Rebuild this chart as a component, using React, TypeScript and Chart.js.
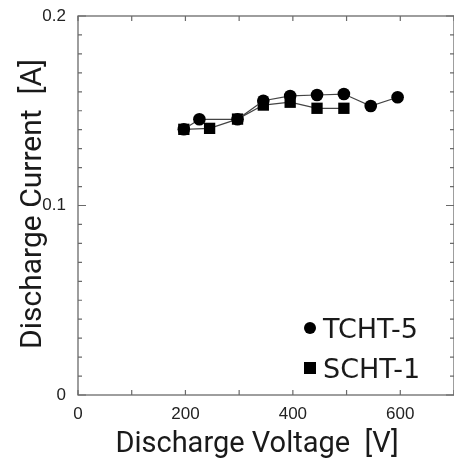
import React, { useEffect, useRef } from "react";
import { Chart, registerables } from "chart.js";

Chart.register(...registerables);

const tchtVoltage = [197, 226, 297, 345, 395, 445, 495, 545, 595];
const tchtCurrent = [0.1402, 0.1455, 0.1455, 0.1553, 0.1578, 0.1583, 0.1588, 0.1525, 0.1571];
const schtVoltage = [197, 245, 297, 345, 395, 445, 495];
const schtCurrent = [0.1402, 0.1407, 0.1456, 0.153, 0.1545, 0.1513, 0.1513];
const seriesNames = ["TCHT-5", "SCHT-1"];
const xTickLabels = [0, 200, 400, 600];
const yTickLabels = [0, 0.1, 0.2];
const xTitle = "Discharge Voltage  [V]";
const yTitle = "Discharge Current  [A]";

const CW = 462;
const CH = 459;

const framePlugin = {
  id: "frame",
  afterDraw(chart: any) {
    const ctx = chart.ctx;
    const xs = chart.scales.x;
    const ys = chart.scales.y;
    const a = chart.chartArea;
    ctx.save();
    ctx.strokeStyle = "#6a6a6a";
    ctx.lineWidth = 1.3;
    ctx.strokeRect(a.left, a.top, a.right - a.left, a.bottom - a.top);
    ctx.lineWidth = 1.2;
    ctx.beginPath();
    for (let v = xs.min; v <= xs.max + 1e-9; v += 100) {
      const px = xs.getPixelForValue(v);
      ctx.moveTo(px, a.bottom);
      ctx.lineTo(px, a.bottom - 5);
      ctx.moveTo(px, a.top);
      ctx.lineTo(px, a.top + 5);
    }
    for (let i = 0; i <= 20; i++) {
      const v = i * 0.01;
      const py = ys.getPixelForValue(v);
      const len = i % 10 === 0 ? 8 : 4;
      ctx.moveTo(a.left, py);
      ctx.lineTo(a.left + len, py);
      ctx.moveTo(a.right, py);
      ctx.lineTo(a.right - len, py);
    }
    ctx.stroke();

    // titles
    ctx.fillStyle = "#1a1a1a";
    ctx.font = "29px Roboto";
    ctx.textAlign = "center";
    ctx.textBaseline = "alphabetic";
    ctx.fillText(xTitle, 257, 452);
    ctx.save();
    ctx.translate(41, 204);
    ctx.rotate(-Math.PI / 2);
    ctx.font = "30px Roboto";
    ctx.fillText(yTitle, 0, 0);
    ctx.restore();

    // legend
    ctx.fillStyle = "#000";
    ctx.beginPath();
    ctx.arc(310, 328, 6, 0, Math.PI * 2);
    ctx.fill();
    ctx.fillRect(304, 362, 12, 12);
    ctx.fillStyle = "#1a1a1a";
    ctx.font = "27px 'DejaVu Sans'";
    ctx.textAlign = "left";
    ctx.fillText(seriesNames[0], 323, 338);
    ctx.fillText(seriesNames[1], 323, 378);
    ctx.restore();
  },
};

export default function App() {
  const ref = useRef<HTMLCanvasElement | null>(null);
  useEffect(() => {
    if (!ref.current) return;
    const chart = new Chart(ref.current, {
      type: "scatter",
      data: {
        datasets: [
          {
            label: seriesNames[0],
            data: tchtVoltage.map((v, i) => ({ x: v, y: tchtCurrent[i] })),
            showLine: true,
            borderColor: "#444",
            borderWidth: 1.2,
            backgroundColor: "#000",
            pointBackgroundColor: "#000",
            pointBorderColor: "#000",
            pointBorderWidth: 0,
            pointStyle: "circle",
            pointRadius: 6.3,
          },
          {
            label: seriesNames[1],
            data: schtVoltage.map((v, i) => ({ x: v, y: schtCurrent[i] })),
            showLine: true,
            borderColor: "#444",
            borderWidth: 1.2,
            backgroundColor: "#000",
            pointBackgroundColor: "#000",
            pointBorderColor: "#000",
            pointBorderWidth: 0,
            pointStyle: "rect",
            pointRadius: 8,
          },
        ],
      },
      options: {
        responsive: false,
        animation: false,
        devicePixelRatio: 1,
        layout: { padding: { top: 16, right: CW - 456, left: 0, bottom: 0 } },
        plugins: { legend: { display: false }, tooltip: { enabled: false } },
        scales: {
          x: {
            type: "linear",
            min: 0,
            max: 700,
            grid: { display: false },
            border: { display: false },
            afterBuildTicks: (s: any) => {
              s.ticks = xTickLabels.map((v) => ({ value: v }));
            },
            afterFit: (s: any) => {
              s.height = CH - 395;
            },
            ticks: {
              padding: 1,
              color: "#222",
              font: { family: "'Liberation Sans', Arial", size: 17 },
              maxRotation: 0,
              callback: (v: any) => String(v),
            },
          },
          y: {
            type: "linear",
            min: 0,
            max: 0.2,
            grid: { display: false },
            border: { display: false },
            afterBuildTicks: (s: any) => {
              s.ticks = yTickLabels.map((v) => ({ value: v }));
            },
            afterFit: (s: any) => {
              s.width = 78;
            },
            ticks: {
              padding: 4,
              color: "#222",
              font: { family: "'Liberation Sans', Arial", size: 17 },
              callback: (v: any) => String(v),
            },
          },
        },
      },
      plugins: [framePlugin],
    });
    return () => chart.destroy();
  }, []);
  return (
    <div style={{ position: "absolute", left: 0, top: 0, width: 454, height: 459, overflow: "hidden", background: "#fff" }}>
      <canvas ref={ref} width={CW} height={CH} style={{ width: CW, height: CH, display: "block" }} />
    </div>
  );
}
